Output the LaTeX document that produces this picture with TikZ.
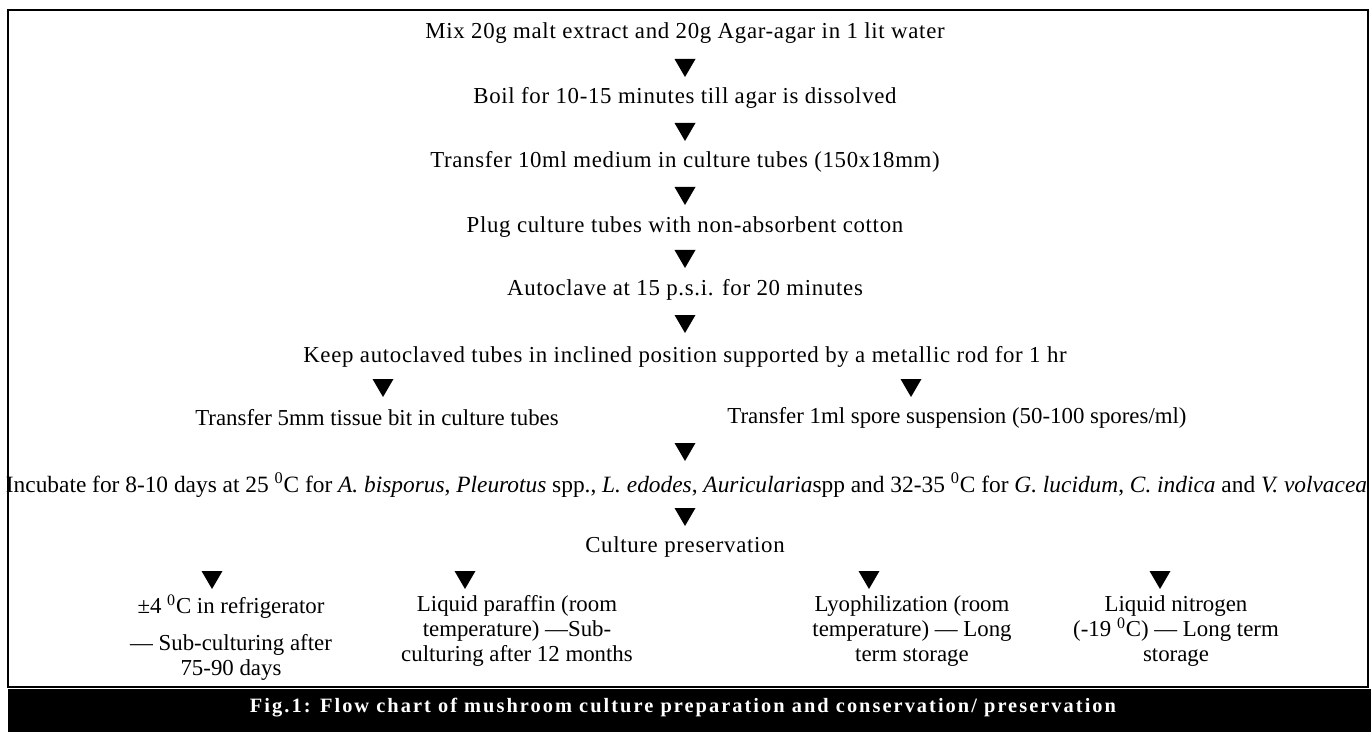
\documentclass[tikz,border=0pt]{standalone}
\usepackage{fontspec}
\setmainfont{Liberation Serif}

\tikzset{
  tri/.pic={\fill (-0.21,0.18) -- (0.21,0.18) -- (0,-0.18) -- cycle;},
  txt/.style={inner sep=0pt, font=\fontsize{13}{14.2}\selectfont},
  wide/.style={txt, font=\fontsize{13}{14.2}\selectfont\addfontfeature{LetterSpace=3}},
  col/.style={txt, align=center, anchor=north},
  caption/.style={inner sep=0pt, text=white,
    font=\fontsize{11.6}{14}\selectfont\bfseries\addfontfeature{LetterSpace=10}}
}

\begin{document}
\begin{tikzpicture}
        \useasboundingbox (0,0) rectangle (27.42,-14.64);
        %frame and caption band
        \draw [line width=0.6pt] (0.16,-0.20) rectangle (27.36,-13.74);
        \fill (0.16,-13.78) rectangle (27.42,-14.64);
        \node [caption] (cap) at (13.66,-14.16)
              {Fig.1: Flow chart of mushroom culture preparation and conservation/ preservation};
        %main steps
        \node [wide] (mix)   at (13.70,-0.66) {Mix 20g malt extract and 20g Agar-agar in 1 lit water};
        \node [wide] (boil)  at (13.70,-1.96) {Boil for 10-15 minutes till agar is dissolved};
        \node [wide] (pour)  at (13.70,-3.24) {Transfer 10ml medium in culture tubes (150x18mm)};
        \node [wide] (plug)  at (13.70,-4.54) {Plug culture tubes with non-absorbent cotton};
        \node [wide] (clave) at (13.70,-5.80) {Autoclave at 15 p.s.i. for 20 minutes};
        \node [wide] (slant) at (13.70,-7.14) {Keep autoclaved tubes in inclined position supported by a metallic rod for 1 hr};
        \node [txt] (tissue) at (7.54,-8.36) {Transfer 5mm tissue bit in culture tubes};
        \node [txt] (spore)  at (19.14,-8.36) {Transfer 1ml spore suspension (50-100 spores/ml)};
        \node [txt, font=\fontsize{13.3}{14.2}\selectfont] (incub) at (13.73,-9.70)
              {Incubate for 8-10 days at 25 \textsuperscript{0}C for
              \textit{A. bisporus}, \textit{Pleurotus} spp., \textit{L. edodes}, \textit{Auricularia}spp
              and 32-35 \textsuperscript{0}C for \textit{G. lucidum}, \textit{C. indica} and \textit{V. volvacea}};
        \node [wide] (keep)  at (13.70,-10.94) {Culture preservation};
        %preservation methods
        \node [col] (fridge) at (4.62,-11.90)
              {±4 \textsuperscript{0}C in refrigerator\\[6.8pt] --- Sub-culturing after\\75-90 days};
        \node [col] (paraf)  at (10.34,-11.90)
              {Liquid paraffin (room\\temperature) ---Sub-\\culturing after 12 months};
        \node [col] (lyo)    at (18.24,-11.90)
              {Lyophilization (room\\temperature) --- Long\\term storage};
        \node [col] (nitro)  at (23.52,-11.90)
              {Liquid nitrogen\\(-19 \textsuperscript{0}C) --- Long term\\storage};
        %arrow marks
        \foreach \y in {-1.36,-2.64,-3.92,-5.18,-6.48,-9.04,-10.34}
              \pic at (13.70,\y) {tri};
        \foreach \x in {7.66,18.22}
              \pic at (\x,-7.76) {tri};
        \foreach \x in {4.24,9.30,17.38,23.20}
              \pic at (\x,-11.60) {tri};
\end{tikzpicture}
\end{document}
